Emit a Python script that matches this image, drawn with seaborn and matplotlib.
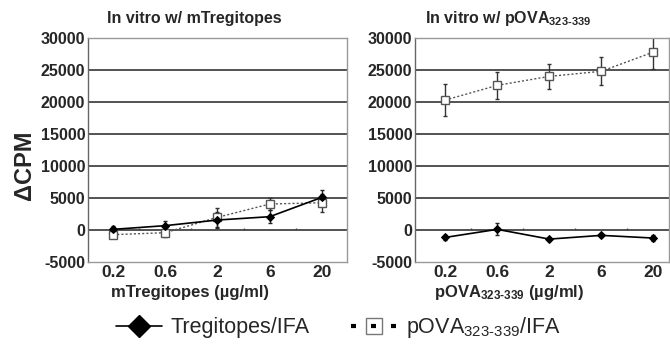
import numpy as np
import pandas as pd
import seaborn as sns
import matplotlib.pyplot as plt
from matplotlib.lines import Line2D

sns.set_style("white")
plt.rcParams["font.family"] = ["Liberation Sans", "DejaVu Sans"]
plt.rcParams["mathtext.default"] = "regular"

doses = ["0.2", "0.6", "2", "6", "20"]

# left panel: in vitro w/ mTregitopes
left_treg = [100, 680, 1560, 2080, 5100]
left_treg_err = [500, 750, 1200, 1000, 1200]
left_ova = [-730, -420, 1980, 4060, 4260]
left_ova_err = [500, 600, 1500, 900, 1400]

# right panel: in vitro w/ pOVA323-339
right_treg = [-1160, 100, -1420, -840, -1260]
right_treg_err = [400, 950, 200, 200, 500]
right_ova = [20300, 22600, 24000, 24800, 27800]
right_ova_err = [2550, 2100, 2000, 2200, 2700]

yticks = [-5000, 0, 5000, 10000, 15000, 20000, 25000, 30000]

fig = plt.figure(figsize=(6.7, 3.47), dpi=100)
W, H = 670, 347
ax1 = fig.add_axes([88 / W, 1 - 262 / H, 259 / W, 224 / H])
ax2 = fig.add_axes([415 / W, 1 - 262 / H, 254 / W, 224 / H])


def draw_panel(ax, treg, treg_err, ova, ova_err, xlim):
    pos = np.arange(len(doses))
    df = pd.DataFrame({"pos": pos, "treg": treg, "ova": ova})
    for y in yticks[1:]:
        ax.axhline(y, color="#444444", lw=1.3, zorder=1)
    ax.vlines(pos[:-1] + 0.5, 0, 350, color="#444444", lw=1, zorder=1)
    ax.errorbar(pos, ova, yerr=ova_err, fmt="none", ecolor="#333333",
                elinewidth=1, capsize=1.5, zorder=2)
    ax.errorbar(pos, treg, yerr=treg_err, fmt="none", ecolor="#222222",
                elinewidth=1, capsize=1.5, zorder=2)
    sns.lineplot(data=df, x="pos", y="ova", ax=ax, color="#555555", lw=1,
                 linestyle=(0, (1.5, 1.5)), marker="s", markersize=5.5,
                 markerfacecolor="white", markeredgecolor="#555555",
                 markeredgewidth=1, zorder=3)
    sns.lineplot(data=df, x="pos", y="treg", ax=ax, color="black", lw=1.2,
                 marker="D", markersize=4.5, markeredgecolor="black", zorder=4)
    ax.set_ylim(-5000, 30000)
    ax.set_xlim(*xlim)
    ax.set_yticks(yticks)
    ax.set_xticks(pos)
    ax.set_xticklabels(doses, fontsize=12.5, fontweight="bold")
    ax.set_yticklabels([str(t) for t in yticks], fontsize=11.5, fontweight="bold")
    ax.tick_params(length=0, pad=2)
    ax.set_xlabel("")
    ax.set_ylabel("")
    for side, sp in ax.spines.items():
        sp.set_color("#999999")
        sp.set_linewidth(1)
    ax.spines["left"].set_color("#666666")


draw_panel(ax1, left_treg, left_treg_err, left_ova, left_ova_err, (-0.48, 4.48))
draw_panel(ax2, right_treg, right_treg_err, right_ova, right_ova_err, (-0.58, 4.3))

fig.text(194 / W, 1 - 18 / H, "In vitro w/ mTregitopes", ha="center", va="center",
         fontsize=11.5, fontweight="bold")
fig.text(508 / W, 1 - 18 / H, "In vitro w/ pOVA$_{323\u2010339}$", ha="center",
         va="center", fontsize=11.5, fontweight="bold")
fig.text(190 / W, 1 - 293 / H, "mTregitopes (\u00b5g/ml)", ha="center", va="center",
         fontsize=12, fontweight="bold")
fig.text(509 / W, 1 - 293 / H, "pOVA$_{323\u2010339}$ (\u00b5g/ml)", ha="center",
         va="center", fontsize=12, fontweight="bold")
fig.text(25 / W, 1 - 165 / H, "\u0394CPM", ha="center", va="center", rotation=90,
         fontsize=17, fontweight="bold")

handles = [
    Line2D([], [], color="black", lw=1.2, marker="D", markersize=11),
    Line2D([], [], color="black", lw=3, linestyle=(0, (1.2, 3.6)), marker="s",
           markersize=11, markerfacecolor="none", markeredgecolor="#777777",
           markeredgewidth=1),
]
fig.legend(handles, ["Tregitopes/IFA", "pOVA$_{323\u2010339}$/IFA"],
           loc="center", bbox_to_anchor=(0.505, 1 - 328 / H), ncol=2, frameon=False,
           fontsize=15.5, handlelength=2.15, columnspacing=1.9, handletextpad=0.4)

fig.savefig("out.png", dpi=100)
